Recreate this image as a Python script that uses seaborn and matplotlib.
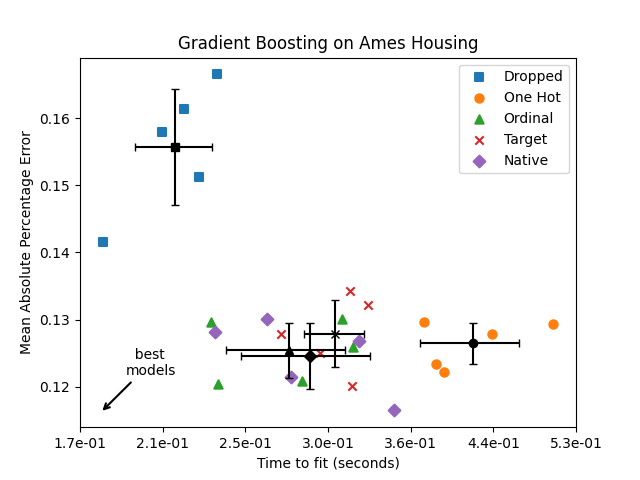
import numpy as np
import pandas as pd
import matplotlib
matplotlib.use("Agg")
import matplotlib.pyplot as plt
import seaborn as sns
from matplotlib.ticker import FormatStrFormatter

# Values (5 CV folds per model)
model_names = ["Dropped", "One Hot", "Ordinal", "Target", "Native"]
markers = ["s", "o", "^", "x", "D"]
colors = ["C0", "C1", "C2", "C3", "C4"]

dropped_time = [0.2349, 0.2179, 0.2073, 0.2255, 0.1813]
dropped_mape = [0.1665, 0.1613, 0.1579, 0.1512, 0.1416]

one_hot_time = [0.3757, 0.3861, 0.3931, 0.4376, 0.5030]
one_hot_mape = [0.1297, 0.1234, 0.1222, 0.1278, 0.1293]

ordinal_time = [0.2315, 0.2353, 0.2848, 0.3119, 0.3195]
ordinal_mape = [0.1297, 0.1205, 0.1209, 0.1301, 0.1260]

target_time = [0.3176, 0.3308, 0.2716, 0.2965, 0.3188]
target_mape = [0.1343, 0.1322, 0.1279, 0.1251, 0.1202]

native_time = [0.2631, 0.2339, 0.2778, 0.3241, 0.3509]
native_mape = [0.1301, 0.1281, 0.1215, 0.1269, 0.1165]

all_times = [dropped_time, one_hot_time, ordinal_time, target_time, native_time]
all_mapes = [dropped_mape, one_hot_mape, ordinal_mape, target_mape, native_mape]

fig, ax = plt.subplots(figsize=(6.4, 4.8), dpi=100)

# One scatter per model (seaborn can't mix filled and line markers in one call)
for name, times, mapes, marker, color in zip(model_names, all_times, all_mapes, markers, colors):
    df = pd.DataFrame({"fit_time": times, "mape": mapes})
    sns.scatterplot(data=df, x="fit_time", y="mape", marker=marker, color=color,
                    edgecolor=color, s=36, linewidth=1.5, label=name, ax=ax)

# Mean +/- std per model
for times, mapes, marker in zip(all_times, all_mapes, markers):
    ax.errorbar(
        x=np.mean(times), y=np.mean(mapes),
        xerr=np.std(times), yerr=np.std(mapes),
        c="black", marker=marker, capsize=3,
    )

ax.set_xscale("log")
ax.set_xlim(0.172, 0.530)
x0, x1 = np.log10(ax.get_xlim())
ax.set_xticks(np.logspace(x0, x1, 7))
ax.xaxis.set_major_formatter(FormatStrFormatter("%1.1e"))
ax.minorticks_off()

ax.annotate(
    "  best\nmodels",
    xy=(0.041, 0.039), xycoords="axes fraction",
    xytext=(0.092, 0.142), textcoords="axes fraction",
    arrowprops=dict(arrowstyle="->", lw=1.5),
)

ax.legend(loc="upper right")

ax.set_xlabel("Time to fit (seconds)")
ax.set_ylabel("Mean Absolute Percentage Error")
ax.set_title("Gradient Boosting on Ames Housing")

fig.savefig("out.png", dpi=100)
